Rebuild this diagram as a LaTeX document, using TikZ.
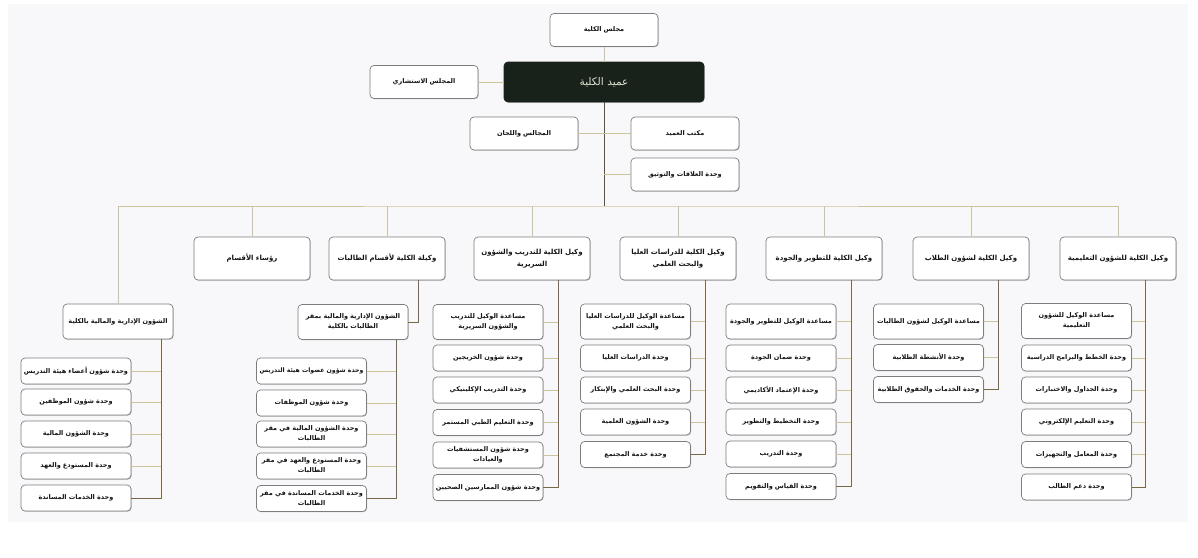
\documentclass[tikz,border=0pt]{standalone}
\usepackage{fontspec}
\newfontfamily\arabicfont[Script=Arabic]{DejaVu Sans}
\TeXXeTstate=1
\usetikzlibrary{shadows}
\definecolor{color1}{RGB}{255,255,255}
\definecolor{color2}{RGB}{125,125,125}
\definecolor{color3}{RGB}{20,20,20}
\definecolor{color4}{RGB}{205,196,158}
\definecolor{color5}{RGB}{120,104,70}
\definecolor{color6}{RGB}{24,34,27}
\definecolor{color7}{RGB}{225,228,210}
\definecolor{color8}{RGB}{248,248,250}
\newcommand{\artxt}[1]{\beginR#1\endR}
\tikzset{
	unitbox/.style={draw=color2, fill=color1, rounded corners=4pt, line width=0.7pt,
		minimum width=110pt, minimum height=26pt, inner xsep=0.5pt, inner ysep=1pt, align=center, text width=109pt,
		font=\arabicfont\bfseries\fontsize{6.5}{10}\selectfont, text=color3,
		drop shadow={shadow xshift=0.7pt, shadow yshift=-0.7pt, opacity=0.25, fill=black}},
	firstbox/.style={unitbox, minimum height=35pt},
	topbox/.style={unitbox, minimum width=108pt, minimum height=33pt, text width=104pt},
	headbox/.style={unitbox, minimum width=116pt, minimum height=43pt, text width=112pt,
		font=\arabicfont\bfseries\fontsize{7}{12}\selectfont},
	deanbox/.style={topbox, fill=color6, draw=color6, minimum width=200pt, minimum height=40pt,
		text width=190pt, text=color7, font=\arabicfont\fontsize{10.5}{12}\selectfont},
	spine/.style={draw=color5, line width=0.7pt},
	branch/.style={draw=color4, line width=0.7pt},
	trunk/.style={draw=color5!80!black, line width=0.9pt}
}
\begin{document}
\begin{tikzpicture}[x=1pt, y=-1pt]
	\useasboundingbox (0,0) rectangle (1198,557);
	\fill[color8] (8,4) rectangle (1188,522);
	% top of the chart
	\node[topbox] (council) at (604,30) {\artxt{مجلس الكلية}};
	\node[deanbox] (dean) at (604,82) {\artxt{عميد الكلية}};
	\node[topbox] (advisory) at (424,82) {\artxt{المجلس الاستشاري}};
	\node[topbox] (committees) at (524,133.5) {\artxt{المجالس واللجان}};
	\node[topbox] (office) at (685,133.5) {\artxt{مكتب العميد}};
	\node[topbox] (relations) at (685,174.5) {\artxt{وحدة العلاقات والتوثيق}};
	\coordinate (bus) at (604,206);
	% vice deans
	\node[headbox] (heads) at (252,258.5) {\artxt{رؤساء الأقسام}};
	\node[headbox] (female) at (387,258.5) {\artxt{وكيلة الكلية لأقسام الطالبات}};
	\node[headbox] (clinical) at (532,258.5) {\artxt{وكيل الكلية للتدريب والشؤون}\\\artxt{السريرية}};
	\node[headbox] (research) at (678,258.5) {\artxt{وكيل الكلية للدراسات العليا}\\\artxt{والبحث العلمي}};
	\node[headbox] (quality) at (824,258.5) {\artxt{وكيل الكلية للتطوير والجودة}};
	\node[headbox] (students) at (971,258.5) {\artxt{وكيل الكلية لشؤون الطلاب}};
	\node[headbox] (education) at (1118,258.5) {\artxt{وكيل الكلية للشؤون التعليمية}};
	% administration of the college
	\node[firstbox] (admin) at (118,321.5) {\artxt{الشؤون الإدارية والمالية بالكلية}};
	\node[unitbox] (a1) at (76,371) {\artxt{وحدة شؤون أعضاء هيئة التدريس}};
	\node[unitbox] (a2) at (76,402) {\artxt{وحدة شؤون الموظفين}};
	\node[unitbox] (a3) at (76,434) {\artxt{وحدة الشؤون المالية}};
	\node[unitbox] (a4) at (76,466) {\artxt{وحدة المستودع والعهد}};
	\node[unitbox] (a5) at (76,498) {\artxt{وحدة الخدمات المساندة}};
	% female sections
	\node[firstbox] (fadmin) at (353,322) {\artxt{الشؤون الإدارية والمالية بمقر}\\\artxt{الطالبات بالكلية}};
	\node[unitbox, font=\arabicfont\bfseries\fontsize{6.2}{10}\selectfont] (b1) at (311.5,371) {\artxt{وحدة شؤون عضوات هيئة التدريس}};
	\node[unitbox] (b2) at (311.5,403) {\artxt{وحدة شؤون الموظفات}};
	\node[unitbox] (b3) at (311.5,434) {\artxt{وحدة الشؤون المالية في مقر}\\\artxt{الطالبات}};
	\node[unitbox] (b4) at (311.5,466) {\artxt{وحدة المستودع والعهد في مقر}\\\artxt{الطالبات}};
	\node[unitbox] (b5) at (311.5,498.5) {\artxt{وحدة الخدمات المساندة في مقر}\\\artxt{الطالبات}};
	% training and clinical affairs
	\node[firstbox] (c1) at (488,322) {\artxt{مساعدة الوكيل للتدريب}\\\artxt{والشؤون السريرية}};
	\node[unitbox] (c2) at (488,358) {\artxt{وحدة شؤون الخريجين}};
	\node[unitbox] (c3) at (488,390) {\artxt{وحدة التدريب الإكلينيكي}};
	\node[unitbox] (c4) at (488,422.5) {\artxt{وحدة التعليم الطبي المستمر}};
	\node[unitbox] (c5) at (488,455) {\artxt{وحدة شؤون المستشفيات}\\\artxt{والعيادات}};
	\node[unitbox] (c6) at (488,487.5) {\artxt{وحدة شؤون الممارسين الصحيين}};
	% graduate studies and research
	\node[firstbox] (d1) at (635.5,321.5) {\artxt{مساعدة الوكيل للدراسات العليا}\\\artxt{والبحث العلمي}};
	\node[unitbox] (d2) at (635.5,358) {\artxt{وحدة الدراسات العليا}};
	\node[unitbox] (d3) at (635.5,390) {\artxt{وحدة البحث العلمي والإبتكار}};
	\node[unitbox] (d4) at (635.5,422) {\artxt{وحدة الشؤون العلمية}};
	\node[unitbox] (d5) at (635.5,454.5) {\artxt{وحدة خدمة المجتمع}};
	% development and quality
	\node[firstbox] (e1) at (781,321.5) {\artxt{مساعدة الوكيل للتطوير والجودة}};
	\node[unitbox] (e2) at (781,358) {\artxt{وحدة ضمان الجودة}};
	\node[unitbox] (e3) at (781,390) {\artxt{وحدة الإعتماد الأكاديمي}};
	\node[unitbox] (e4) at (781,422) {\artxt{وحدة التخطيط والتطوير}};
	\node[unitbox] (e5) at (781,454) {\artxt{وحدة التدريب}};
	\node[unitbox] (e6) at (781,486.5) {\artxt{وحدة القياس والتقويم}};
	% student affairs
	\node[firstbox] (f1) at (928.5,321.5) {\artxt{مساعدة الوكيل لشؤون الطالبات}};
	\node[unitbox] (f2) at (928.5,357.5) {\artxt{وحدة الأنشطة الطلابية}};
	\node[unitbox] (f3) at (928.5,389.5) {\artxt{وحدة الخدمات والحقوق الطلابية}};
	% educational affairs
	\node[firstbox] (g1) at (1076.5,321) {\artxt{مساعدة الوكيل للشؤون}\\\artxt{التعليمية}};
	\node[unitbox] (g2) at (1076.5,358) {\artxt{وحدة الخطط والبرامج الدراسية}};
	\node[unitbox] (g3) at (1076.5,390) {\artxt{وحدة الجداول والاختبارات}};
	\node[unitbox] (g4) at (1076.5,422) {\artxt{وحدة التعليم الإلكتروني}};
	\node[unitbox] (g5) at (1076.5,454.5) {\artxt{وحدة المعامل والتجهيزات}};
	\node[unitbox] (g6) at (1076.5,487) {\artxt{وحدة دعم الطالب}};
	% spine coordinates
	\coordinate (sA) at (161,339);
	\coordinate (sB0) at (418,280);
	\coordinate (sB) at (396,339.5);
	\coordinate (sC) at (558,280);
	\coordinate (sD) at (705,280);
	\coordinate (sE) at (851,280);
	\coordinate (sF) at (998,280);
	\coordinate (sG) at (1145,280);
	% connectors at the top
	\draw[branch] (council) -- (dean);
	\draw[branch] (advisory) -- (dean);
	\draw[trunk] (dean.south) -- (bus);
	\draw[branch] (committees.east) -- (committees.east -| dean.south);
	\draw[branch] (office.west) -- (office.west -| dean.south);
	\draw[branch] (relations.west) -- (relations.west -| dean.south);
	\draw[branch] (admin.north) |- (bus) -| (education.north);
	\draw[branch] (heads.north) -- (heads.north |- bus);
	\draw[branch] (female.north) -- (female.north |- bus);
	\draw[branch] (clinical.north) -- (clinical.north |- bus);
	\draw[branch] (research.north) -- (research.north |- bus);
	\draw[branch] (quality.north) -- (quality.north |- bus);
	\draw[branch] (students.north) -- (students.north |- bus);
	% spines and branches
	\draw[spine] (sA) |- (a5.east);
	\draw[branch] (a1.east) -- (a1.east -| sA) (a2.east) -- (a2.east -| sA) (a3.east) -- (a3.east -| sA) (a4.east) -- (a4.east -| sA);
	\draw[spine] (sB0) |- (fadmin.east);
	\draw[spine] (sB) |- (b5.east);
	\draw[branch] (b1.east) -- (b1.east -| sB) (b2.east) -- (b2.east -| sB) (b3.east) -- (b3.east -| sB) (b4.east) -- (b4.east -| sB);
	\draw[spine] (sC) |- (c6.east);
	\draw[branch] (c1.east) -- (c1.east -| sC) (c2.east) -- (c2.east -| sC) (c3.east) -- (c3.east -| sC) (c4.east) -- (c4.east -| sC) (c5.east) -- (c5.east -| sC);
	\draw[spine] (sD) |- (d5.east);
	\draw[branch] (d1.east) -- (d1.east -| sD) (d2.east) -- (d2.east -| sD) (d3.east) -- (d3.east -| sD) (d4.east) -- (d4.east -| sD);
	\draw[spine] (sE) |- (e6.east);
	\draw[branch] (e1.east) -- (e1.east -| sE) (e2.east) -- (e2.east -| sE) (e3.east) -- (e3.east -| sE) (e4.east) -- (e4.east -| sE) (e5.east) -- (e5.east -| sE);
	\draw[spine] (sF) |- (f3.east);
	\draw[branch] (f1.east) -- (f1.east -| sF) (f2.east) -- (f2.east -| sF);
	\draw[spine] (sG) |- (g6.east);
	\draw[branch] (g1.east) -- (g1.east -| sG) (g2.east) -- (g2.east -| sG) (g3.east) -- (g3.east -| sG) (g4.east) -- (g4.east -| sG) (g5.east) -- (g5.east -| sG);
\end{tikzpicture}
\end{document}
